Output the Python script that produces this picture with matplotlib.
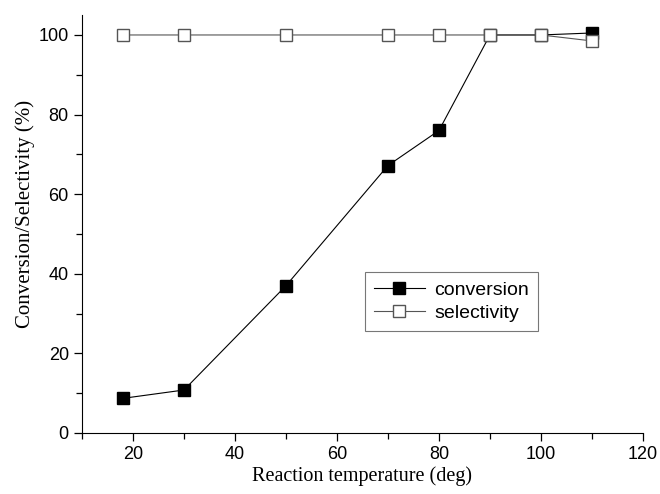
import matplotlib.pyplot as plt
from matplotlib.ticker import MultipleLocator

temperature = [18, 30, 50, 70, 80, 90, 100, 110]
conversion = [8.7, 10.8, 37.0, 67.2, 76.0, 100.0, 100.0, 100.5]
selectivity = [100, 100, 100, 100, 100, 100, 100, 98.5]

fig = plt.figure(figsize=(6.6, 4.94), dpi=100)
ax = fig.add_axes([0.1242, 0.1235, 0.85, 0.846])

ax.plot(temperature, conversion, color="black", lw=0.8, marker="s",
        ms=9, mfc="black", mec="black", label="conversion")
ax.plot(temperature, selectivity, color="#555555", lw=0.8, marker="s",
        ms=9, mfc="white", mec="#555555", mew=1.0, label="selectivity")

ax.set_xlim(10, 120)
ax.set_ylim(0, 105)
ax.xaxis.set_major_locator(MultipleLocator(20))
ax.xaxis.set_minor_locator(MultipleLocator(10))
ax.yaxis.set_major_locator(MultipleLocator(20))
ax.yaxis.set_minor_locator(MultipleLocator(10))
ax.spines["top"].set_visible(False)
ax.spines["right"].set_visible(False)
ax.tick_params(which="major", direction="out", length=6, width=0.9,
               labelsize=13)
ax.tick_params(which="minor", direction="out", length=4, width=0.9)
for lab in ax.get_xticklabels() + ax.get_yticklabels():
    lab.set_family("Liberation Sans")

ax.set_xlabel("Reaction temperature (deg)", family="Liberation Serif",
              fontsize=14.5, labelpad=2)
ax.set_ylabel("Conversion/Selectivity (%)", family="Liberation Serif",
              fontsize=15)
ax.yaxis.set_label_coords(-0.084, 0.525)

leg = ax.legend(loc="upper left", bbox_to_anchor=(0.488, 0.408), fancybox=False,
                edgecolor="#555555", prop={"family": "Liberation Sans",
                                           "size": 14},
                handlelength=2.6, borderpad=0.45, labelspacing=0.3,
                handletextpad=0.5)
leg.get_frame().set_linewidth(0.8)

fig.savefig("out.png", dpi=100)
